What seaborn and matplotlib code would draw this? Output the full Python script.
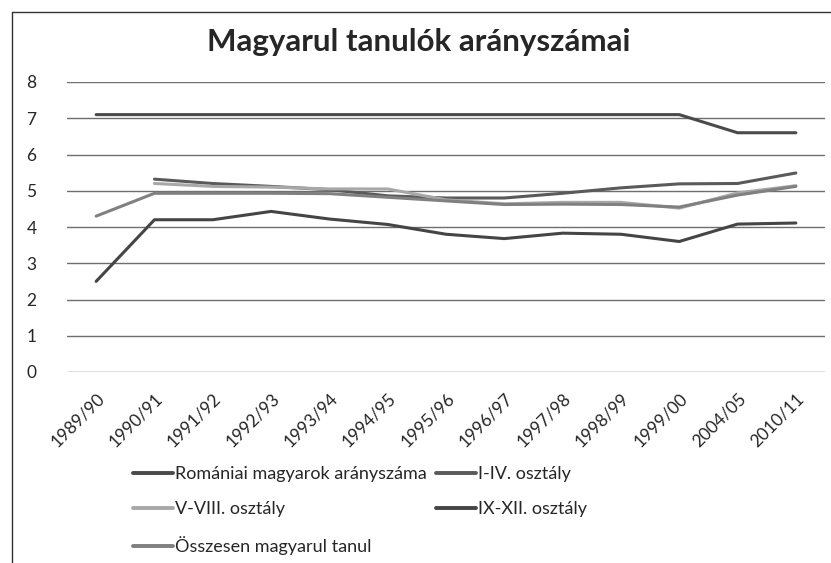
import numpy as np
import pandas as pd
import matplotlib
matplotlib.use("Agg")
import matplotlib.pyplot as plt
import seaborn as sns
from matplotlib.lines import Line2D

years = ["1989/90", "1990/91", "1991/92", "1992/93", "1993/94", "1994/95", "1995/96",
         "1996/97", "1997/98", "1998/99", "1999/00", "2004/05", "2010/11"]
romaniai = [7.1, 7.1, 7.1, 7.1, 7.1, 7.1, 7.1, 7.1, 7.1, 7.1, 7.1, 6.6, 6.6]
osztaly_1_4 = [np.nan, 5.32, 5.2, 5.12, 5.03, 4.86, 4.8, 4.8, 4.93, 5.08, 5.19, 5.2, 5.49]
osztaly_5_8 = [np.nan, 5.2, 5.12, 5.1, 5.05, 5.05, 4.75, 4.64, 4.68, 4.68, 4.52, 4.94, 5.14]
osztaly_9_12 = [2.5, 4.2, 4.2, 4.43, 4.22, 4.07, 3.8, 3.68, 3.83, 3.8, 3.6, 4.08, 4.11]
osszesen = [4.3, 4.93, 4.93, 4.93, 4.92, 4.82, 4.72, 4.62, 4.63, 4.62, 4.55, 4.88, 5.12]

names = ["Romániai magyarok arányszáma", "I-IV. osztály", "V-VIII. osztály",
         "IX-XII. osztály", "Összesen magyarul tanul"]
series = [romaniai, osztaly_1_4, osztaly_5_8, osztaly_9_12, osszesen]
colors = ["#4a4a4a", "#5a5a5a", "#a8a8a8", "#454545", "#808080"]

rows = []
for n, vals in zip(names, series):
    for i, v in enumerate(vals):
        if not np.isnan(v):
            rows.append({"idx": i, "val": v, "series": n})
df = pd.DataFrame(rows)

sns.set_style("white")
plt.rcParams["font.family"] = ["Lato", "DejaVu Sans"]

fig = plt.figure(figsize=(8.31, 5.63), dpi=100)
ax = fig.add_axes([67 / 831, 1 - 372 / 563, (825 - 67) / 831, (372 - 82) / 563])

palette = dict(zip(names, colors))
sns.lineplot(data=df, x="idx", y="val", hue="series", hue_order=names, palette=palette,
             linewidth=2.2, ax=ax, legend=False, sort=True, estimator=None)

ax.set_xlim(-0.5, len(years) - 0.5)
ax.set_ylim(0, 8)
ax.set_yticks(range(0, 9))
ax.set_xticks(range(len(years)))
ax.set_xticklabels(years, rotation=45, ha="right", rotation_mode="anchor", fontsize=12.5)
ax.tick_params(axis="y", labelsize=12.5, length=0, pad=22)
ax.tick_params(axis="x", length=0, pad=13)
ax.grid(axis="y", color="#6e6e6e", linewidth=1.0)
ax.set_axisbelow(True)
for s in ax.spines.values():
    s.set_visible(False)
ax.set_xlabel("")
ax.set_ylabel("")

fig.text(419 / 831, 1 - 42 / 563, "Magyarul tanulók arányszámai", ha="center", va="center",
         fontsize=22.5, fontweight="bold")

handles = [Line2D([], [], color=c, linewidth=2.8) for c in colors]
order = [0, 2, 4, 1, 3]
leg = fig.legend([handles[i] for i in order], [names[i] for i in order], ncol=2,
                 loc="upper left", bbox_to_anchor=(133 / 831, 1 - 466 / 563), frameon=False,
                 fontsize=13, handlelength=2.2, handletextpad=0.1, columnspacing=0.55,
                 labelspacing=1.05, borderpad=0, borderaxespad=0)

# outer frame: left and top edges
fig.add_artist(Line2D([12 / 831, 12 / 831], [0, 1 - 12 / 563], transform=fig.transFigure,
                      color="#333333", linewidth=1.0))
fig.add_artist(Line2D([12 / 831, 1], [1 - 12 / 563, 1 - 12 / 563], transform=fig.transFigure,
                      color="#333333", linewidth=1.0))

fig.savefig("out.png", dpi=100)
